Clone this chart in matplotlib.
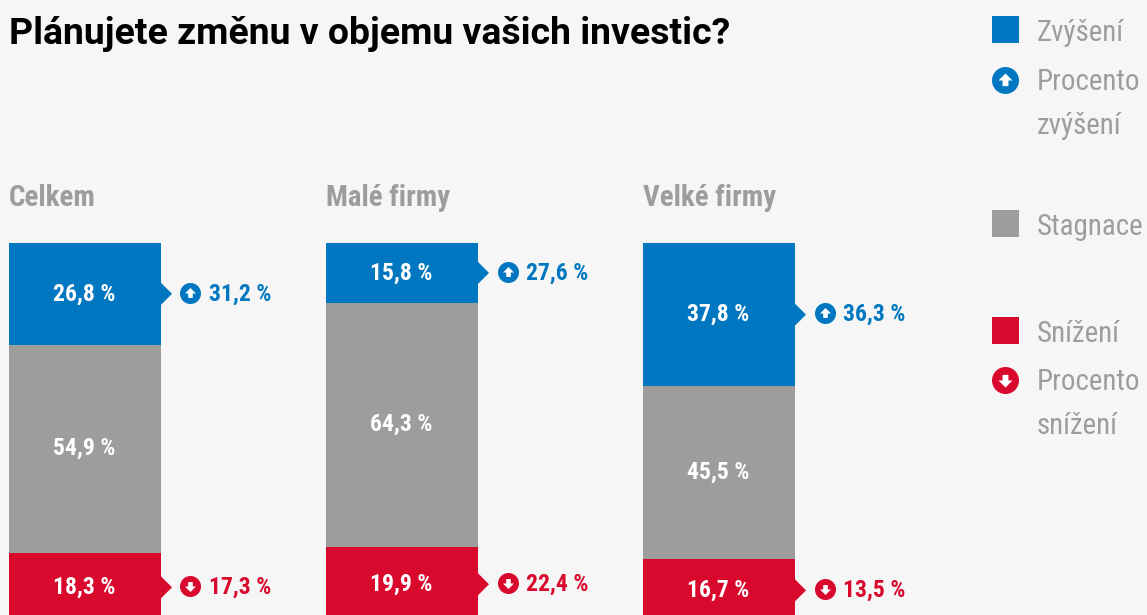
import matplotlib.pyplot as plt
from matplotlib.path import Path

# plan for investment volume, values in percent
groups = ['Celkem', 'Malé firmy', 'Velké firmy']
increase = [26.8, 15.8, 37.8]
stagnation = [54.9, 64.3, 45.5]
decrease = [18.3, 19.9, 16.7]
pct_increase = [31.2, 27.6, 36.3]
pct_decrease = [17.3, 22.4, 13.5]

BLUE = '#0077c0'
GREY = '#9d9d9c'
RED = '#d9082d'
BG = '#f6f6f6'
NARROW = 'Roboto Condensed'

W, H = 1147, 615
panel_left = [9, 326, 643]
BAR_W = 152
TOP = 243
PX_PER_PCT = 3.79

up_arrow = Path([(0, 1), (1, 0), (0.42, 0), (0.42, -0.8), (-0.42, -0.8), (-0.42, 0), (-1, 0), (0, 1)], closed=True)
down_arrow = Path([(0, -1), (1, 0), (0.42, 0), (0.42, 0.8), (-0.42, 0.8), (-0.42, 0), (-1, 0), (0, -1)], closed=True)


def fmt(v):
    return f'{v:.1f} %'.replace('.', ',')


def icon(ax, x, y, color, arrow, r_px, arrow_px):
    ax.plot([x], [y], marker='o', ms=2 * r_px * 0.72, color=color, mew=0, clip_on=False)
    ax.plot([x], [y], marker=arrow, ms=arrow_px * 0.72, color='white', mew=0, clip_on=False)


fig = plt.figure(figsize=(W / 100, H / 100), dpi=100, facecolor=BG)

# background axes in pixels, for title and legend
bg = fig.add_axes([0, 0, 1, 1])
bg.set_xlim(0, W)
bg.set_ylim(H, 0)
bg.axis('off')

bg.text(9, 34, 'Plánujete změnu v objemu vašich investic?', fontfamily='Roboto',
        fontweight='bold', fontsize=26.9, color='black', va='center', ha='left')

legend_font = dict(fontfamily=NARROW, fontsize=20.85, color=GREY, va='center', ha='left')
for y, col, label in [(29.5, BLUE, 'Zvýšení'), (223.5, GREY, 'Stagnace'), (330.5, RED, 'Snížení')]:
    bg.add_patch(plt.Rectangle((992, y - 13.5), 27, 27, color=col, lw=0))
    bg.text(1037, y + 3.5, label, **legend_font)
icon(bg, 1005, 79.5, BLUE, up_arrow, 13.5, 14)
bg.text(1037, 82.5, 'Procento', **legend_font)
bg.text(1037, 125.5, 'zvýšení', **legend_font)
icon(bg, 1005, 380, RED, down_arrow, 13.5, 14)
bg.text(1037, 382.5, 'Procento', **legend_font)
bg.text(1037, 425.5, 'snížení', **legend_font)

for i, name in enumerate(groups):
    # axis is 100 % tall and runs past the bottom edge of the picture
    h_px = 100 * PX_PER_PCT
    ax = fig.add_axes([panel_left[i] / W, 1 - (TOP + h_px) / H, 300 / W, h_px / H])
    ax.patch.set_alpha(0)
    ax.set_xlim(0, 300)
    ax.set_ylim(100, 0)
    ax.axis('off')

    bottom = 0
    for val, col in [(increase[i], BLUE), (stagnation[i], GREY), (decrease[i], RED)]:
        ax.bar(0, val, width=BAR_W, bottom=bottom, align='edge', color=col, lw=0)
        ax.text(BAR_W / 2 - 1, bottom + val / 2, fmt(val), color='white', ha='center', va='center',
                fontfamily=NARROW, fontweight='bold', fontsize=17)
        bottom += val

    y_up = increase[i] / 2
    y_down = 100 - decrease[i] / 2
    dy = 11 / PX_PER_PCT
    ax.fill([BAR_W, BAR_W + 11, BAR_W], [y_up - dy, y_up, y_up + dy], color=BLUE, lw=0)
    ax.fill([BAR_W, BAR_W + 11, BAR_W], [y_down - dy, y_down, y_down + dy], color=RED, lw=0)
    icon(ax, 181.5, y_up - 0.3, BLUE, up_arrow, 10.5, 11)
    icon(ax, 181.5, y_down - 0.3, RED, down_arrow, 10.5, 11)
    ax.text(200, y_up, fmt(pct_increase[i]), color=BLUE, ha='left', va='center',
            fontfamily=NARROW, fontweight='bold', fontsize=17)
    ax.text(200, y_down, fmt(pct_decrease[i]), color=RED, ha='left', va='center',
            fontfamily=NARROW, fontweight='bold', fontsize=17)

    bg.text(panel_left[i], 198, name, color=GREY, ha='left', va='center',
            fontfamily=NARROW, fontweight='bold', fontsize=20.8)

fig.savefig('out.png', dpi=100, facecolor=BG)
